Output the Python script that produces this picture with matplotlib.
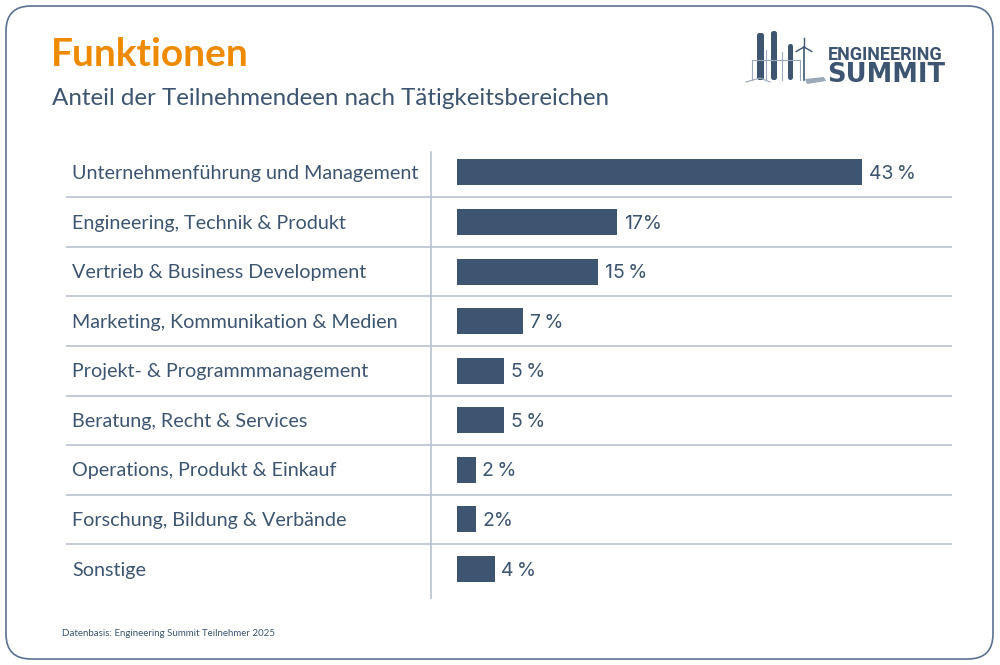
import numpy as np
import matplotlib
matplotlib.use("Agg")
import matplotlib.pyplot as plt
from matplotlib.patches import FancyBboxPatch

# ── Daten ──
categories = [
    "Unternehmenführung und Management",
    "Engineering, Technik & Produkt",
    "Vertrieb & Business Development",
    "Marketing, Kommunikation & Medien",
    "Projekt- & Programmmanagement",
    "Beratung, Recht & Services",
    "Operations, Produkt & Einkauf",
    "Forschung, Bildung & Verbände",
    "Sonstige",
]
values = [43, 17, 15, 7, 5, 5, 2, 2, 4]
value_labels = ["43\u2009%", "17%", "15\u2009%", "7\u2009%", "5\u2009%",
                "5\u2009%", "2\u2009%", "2%", "4\u2009%"]

TITLE = "Funktionen"
SUBTITLE = "Anteil der Teilnehmendeen nach Tätigkeitsbereichen"
SOURCE = "Datenbasis: Engineering Summit Teilnehmer 2025"

DARK = "#3d5570"
ORANGE = "#ee8a00"
LINE = "#b9c3cf"
TXT_FONT = ["Lato", "DejaVu Sans"]

W, H = 1000, 665
fig = plt.figure(figsize=(W / 100, H / 100), dpi=100)
fig.patch.set_facecolor("white")

def fx(px):
    return px / W

def fy(py):
    return 1 - py / H

# ── Rahmen ──
frame = FancyBboxPatch((fx(6), fy(659)), fx(987), (653) / H,
                       boxstyle="round,pad=0,rounding_size=0.025",
                       transform=fig.transFigure, fill=False,
                       edgecolor="#5b7190", linewidth=1.2,
                       mutation_aspect=W / H)
fig.patches.append(frame)

# ── Titel ──
fig.text(fx(51), fy(66), TITLE, color=ORANGE, fontsize=28, fontweight="bold",
         family=TXT_FONT, va="baseline", ha="left")
fig.text(fx(52), fy(105), SUBTITLE, color=DARK, fontsize=17.4,
         family=TXT_FONT, va="baseline", ha="left")
fig.text(fx(62), fy(633), SOURCE, color=DARK, fontsize=7,
         family=TXT_FONT, va="center", ha="left")

# ── Diagramm ──
left_px, right_px, top_px, bottom_px = 431, 952, 152, 598
ax = fig.add_axes([fx(left_px), fy(bottom_px),
                   (right_px - left_px) / W, (bottom_px - top_px) / H])
px_per_unit = (862 - 457) / 43.0
row_px = 49.6
ax.set_xlim(-(457 - left_px) / px_per_unit, (right_px - 457) / px_per_unit)
ax.set_ylim(len(values) - 1 + (bottom_px - 569) / row_px, -(172.5 - top_px) / row_px)

y = np.arange(len(values))
ax.barh(y, values, height=26 / row_px, color=DARK, zorder=3)

for i, (v, lab) in enumerate(zip(values, value_labels)):
    ax.text(v + 0.7, i + 0.03, lab, va="center", ha="left", color=DARK,
            fontsize=14, family=["Inter", "DejaVu Sans"])

trans = ax.get_yaxis_transform()
lab_x = (72 - left_px) / (right_px - left_px)
sep_x = (66 - left_px) / (right_px - left_px)
for i, cat in enumerate(categories):
    ax.text(lab_x, i + 0.02, cat, transform=trans, va="center", ha="left",
            color=DARK, fontsize=14.2, family=TXT_FONT, clip_on=False)
ax.hlines(y[:-1] + 0.5, sep_x, 1, transform=trans, color=LINE,
          linewidth=1.2, clip_on=False)

for s in ["top", "right", "bottom"]:
    ax.spines[s].set_visible(False)
ax.spines["left"].set_color(LINE)
ax.spines["left"].set_linewidth(1.2)
ax.set_xticks([])
ax.set_yticks([])

# ── Logo ──
lg = fig.add_axes([fx(745), fy(86), fx(85), 58 / H])
lg.set_xlim(745, 830)
lg.set_ylim(86, 28)
lg.axis("off")
towers = [(757, 33, 7), (771, 31, 6), (788, 44, 5)]
for x0, top, w in towers:
    lg.add_patch(FancyBboxPatch((x0, top), w, 80 - top,
                                boxstyle="round,pad=0,rounding_size=2.5",
                                facecolor=DARK, edgecolor="none"))
lg.plot([752, 752, 800, 800], [80, 60, 60, 80], color="#9aa8b8", lw=0.8)
lg.plot([766, 766], [50, 80], color="#9aa8b8", lw=0.8)
lg.plot([782, 782], [52, 80], color="#9aa8b8", lw=0.8)
lg.plot([804, 804], [47, 80], color=DARK, lw=1.2)
for ang in (90, 210, 330):
    a = np.deg2rad(ang)
    lg.plot([804, 804 + 9 * np.cos(a)], [47, 47 - 9 * np.sin(a)],
            color=DARK, lw=1)
lg.plot([746, 760, 770], [82, 78, 82], color="#9aa8b8", lw=0.8)
lg.add_patch(plt.Polygon([(805, 79), (824, 77), (826, 81), (807, 84)],
                         facecolor="#9aa8b8", edgecolor="none"))

fig.text(fx(828), fy(60.5), "ENGINEERING", color=DARK, fontsize=13,
         fontweight="bold", family=["Roboto", "DejaVu Sans"],
         va="baseline", ha="left")
fig.text(fx(827), fy(82), "SUMMIT", color=DARK, fontsize=18.5,
         fontweight="bold", family=["DejaVu Sans"],
         va="baseline", ha="left")

fig.savefig("out.png", dpi=100, facecolor="white")
